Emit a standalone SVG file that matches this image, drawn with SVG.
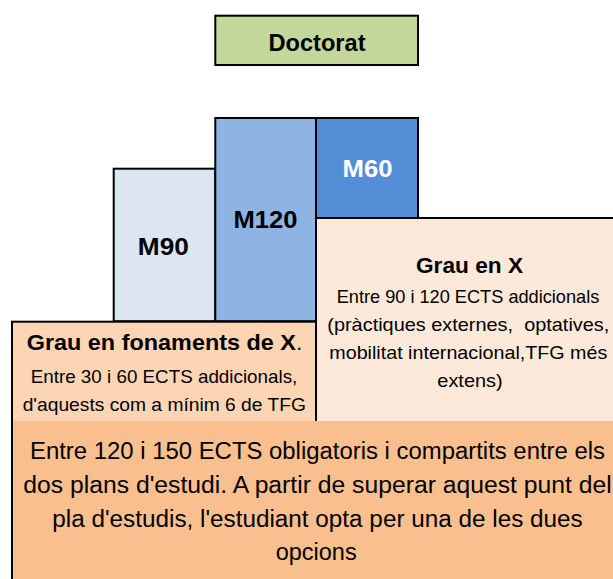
<svg xmlns="http://www.w3.org/2000/svg" width="613" height="579" viewBox="0 0 613 579">
<style>
.box{stroke:#000;stroke-width:2}
.t{font-family:"Liberation Sans",Arial,sans-serif;fill:#000}
.b{font-weight:bold}
.lg{font-size:24px}
.md{font-size:21.5px}
.sm{font-size:18.5px}
.bt{font-size:23px}
</style>
<rect width="613" height="579" fill="#fff"/>
<g id="doctorat">
<rect class="box" x="215.3" y="15.7" width="202.7" height="49.3" fill="#C4D79B"/>
<text class="t b lg" x="317" y="50.7" text-anchor="middle" textLength="97" lengthAdjust="spacingAndGlyphs">Doctorat</text>
</g>
<g id="m90">
<rect class="box" x="113.7" y="168.7" width="101.6" height="152.5" fill="#DCE6F1"/>
<text class="t b lg" x="163.3" y="255" text-anchor="middle" textLength="51" lengthAdjust="spacingAndGlyphs">M90</text>
</g>
<g id="m120">
<rect class="box" x="215.3" y="118" width="100.7" height="203.2" fill="#8DB4E2"/>
<text class="t b lg" x="265.5" y="228.3" text-anchor="middle" textLength="64" lengthAdjust="spacingAndGlyphs">M120</text>
</g>
<g id="m60">
<rect class="box" x="316" y="118" width="102" height="100" fill="#538DD5"/>
<text class="t b lg" x="367.5" y="177.3" text-anchor="middle" textLength="50" lengthAdjust="spacingAndGlyphs" fill="#fff" style="fill:#fff">M60</text>
</g>
<g id="grau-x">
<rect class="box" x="316" y="218" width="310" height="204" fill="#FDE9D9"/>
<text class="t b md" x="469.5" y="272.7" text-anchor="middle" textLength="107" lengthAdjust="spacingAndGlyphs">Grau en X</text>
<text class="t sm" x="468" y="302.9" text-anchor="middle" textLength="262.6" lengthAdjust="spacingAndGlyphs">Entre 90 i 120 ECTS addicionals</text>
<text class="t sm" x="468.3" y="330.5" text-anchor="middle" textLength="282" lengthAdjust="spacingAndGlyphs" xml:space="preserve">(pràctiques externes,  optatives,</text>
<text class="t sm" x="468.3" y="358.5" text-anchor="middle" textLength="278" lengthAdjust="spacingAndGlyphs">mobilitat internacional,TFG més</text>
<text class="t sm" x="470" y="386.7" text-anchor="middle" textLength="65.4" lengthAdjust="spacingAndGlyphs">extens)</text>
</g>
<g id="grau-fonaments">
<rect class="box" x="12" y="321.7" width="304" height="100.3" fill="#FCD5B4"/>
<text class="t b md" x="26.7" y="350.3" textLength="269.3" lengthAdjust="spacingAndGlyphs">Grau en fonaments de X</text>
<text class="t md" x="296.3" y="350.3">.</text>
<text class="t sm" x="164" y="382.5" text-anchor="middle" textLength="266.6" lengthAdjust="spacingAndGlyphs">Entre 30 i 60 ECTS addicionals,</text>
<text class="t sm" x="164.3" y="410.5" text-anchor="middle" textLength="283.3" lengthAdjust="spacingAndGlyphs">d'aquests com a mínim 6 de TFG</text>
</g>
<g id="troncal">
<rect x="12" y="421" width="612" height="170" fill="#FABF8F"/>
<line x1="12" y1="420" x2="12" y2="579" stroke="#000" stroke-width="2"/>
<text class="t bt" x="317.5" y="459" text-anchor="middle" textLength="575" lengthAdjust="spacingAndGlyphs">Entre 120 i 150 ECTS obligatoris i compartits entre els</text>
<text class="t bt" x="317.5" y="493" text-anchor="middle" textLength="588.4" lengthAdjust="spacingAndGlyphs">dos plans d'estudi. A partir de superar aquest punt del</text>
<text class="t bt" x="317.5" y="526.7" text-anchor="middle" textLength="530.4" lengthAdjust="spacingAndGlyphs">pla d'estudis, l'estudiant opta per una de les dues</text>
<text class="t bt" x="316.2" y="560" text-anchor="middle" textLength="81" lengthAdjust="spacingAndGlyphs">opcions</text>
</g>
<g id="connectors"/>
</svg>
